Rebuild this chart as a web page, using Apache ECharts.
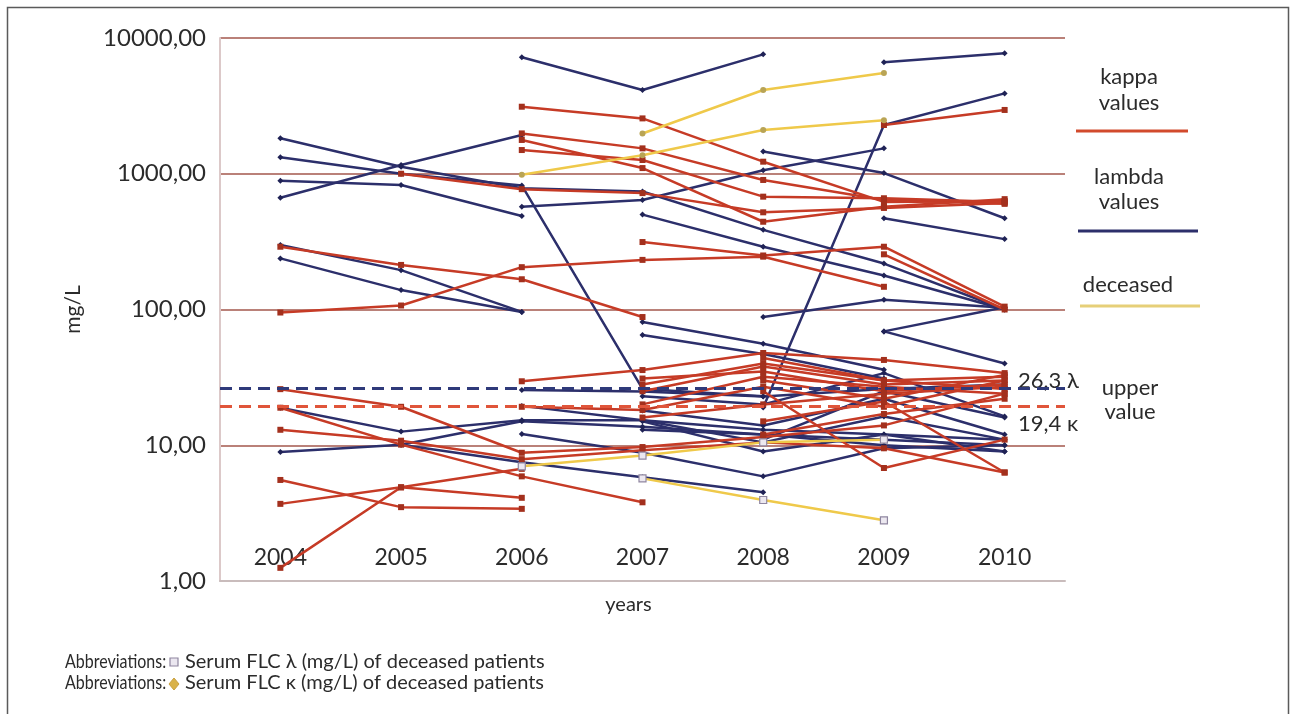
<!DOCTYPE html>
<html><head><meta charset="utf-8">
<script src="https://cdn.jsdelivr.net/npm/echarts@6/dist/echarts.min.js"></script>
<style>html,body{margin:0;padding:0;background:#fff}#c{width:1296px;height:714px}</style>
</head><body><div id="c"></div>
<script>
// ---------- data ----------
const years = ['2004','2005','2006','2007','2008','2009','2010'];
const yMin = 1, yMax = 10000;
const lambdaUpper = 26.3, kappaUpper = 19.4;
const lambdaUpperLabel = '26,3 λ', kappaUpperLabel = '19,4 κ';

// kappa values (red)
const k01 = [95, 107, 205, 232, 245, 147, null];
const k02 = [290, 213, 167, 88, null, null, null];
const k03 = [null, 1000, 770, 720, 520, 560, 610];
const k04 = [null, null, 3117, 2557, 1227, 620, 630];
const k05 = [null, null, 1982, 1538, 900, 640, 600];
const k06 = [null, null, 1774, 1101, 443, 572, 650];
const k07 = [null, null, 1495, 1262, 678, 660, 620];
const k08 = [null, null, null, 314, 250, 290, 105];
const k09 = [null, null, null, null, null, 2286, 2951];
const k10 = [null, null, null, null, null, 255, 100];
const k11 = [25.9, 19.2, 8.8, 9.7, 11.5, 14, 24];
const k12 = [18.9, 10.1, 5.9, 3.8, null, null, null];
const k13 = [13.0, 10.8, 7.9, 9.2, 10.5, 9.5, 6.3];
const k14 = [5.55, 3.5, 3.4, null, null, null, null];
const k15 = [3.7, 4.9, 4.1, null, null, null, null];
const k16 = [1.25, 4.9, 6.7, null, null, null, null];
const k17 = [null, null, 29.6, 35.8, 47.8, 42.5, 34];
const k18 = [null, null, 19.2, 18.2, 27, 19.2, 30];
const k19 = [null, null, null, 28, 40, 30, 26];
const k20 = [null, null, null, 31, 35, 25, 28];
const k21 = [null, null, null, 20, 32, 27, 24];
const k22 = [null, null, null, null, 25, 6.8, 11];
const k23 = [null, null, null, null, 15, 21, 6.3];
const k24 = [null, null, null, null, 12, 17, 22];
const k25 = [null, null, null, null, 44, 30, 32];
const k26 = [null, null, null, 25, 38, 28, 30];
const k27 = [null, null, null, null, 30, 22, 33];
const k28 = [null, null, null, 16, 20, 24, 27];

// lambda values (navy)
const l01 = [1824, 1127, 781, 740, 386, 218, 100];
const l02 = [1322, 1000, 820, 26, 23, null, null];
const l03 = [889, 826, 488, null, null, null, null];
const l04 = [666, 1159, 1928, null, null, null, null];
const l05 = [299, 195, 96, null, null, null, null];
const l06 = [238, 139, 96, null, null, null, null];
const l07 = [null, null, 572, 641, 1060, 1538, null];
const l08 = [null, null, 7210, 4140, 7580, null, null];
const l09 = [null, null, null, null, null, 6620, 7710];
const l10 = [null, null, null, null, 1458, 1012, 470];
const l11 = [null, null, null, null, null, 470, 330];
const l12 = [null, null, null, 500, 290, 178, 100];
const l13 = [null, null, null, null, 88, 118, 103];
const l14 = [null, null, null, null, 19, 2286, 3907];
const l15 = [null, null, null, 81, 56, 36, null];
const l16 = [null, null, null, 65, 47, 31, null];
const l17 = [null, null, null, null, null, 69, 104];
const l18 = [null, null, null, null, null, 69, 40];
const l19 = [18.9, 12.6, 15.3, 15.3, 13, 12, 11];
const l20 = [8.9, 10.1, 15.0, 13.7, 12, 10, 9];
const l21 = [null, null, 25.5, 24.9, 22.9, 26, 28];
const l22 = [null, 10.1, 7.5, 5.8, 4.5, null, null];
const l23 = [null, null, 19.5, 15.3, 10.5, 16.3, 11];
const l24 = [null, null, 12.1, 8.8, 5.9, 9.5, 10];
const l25 = [null, null, null, 23, 20, 34, 16.3];
const l26 = [null, null, null, 15, 9.0, 12, 9];
const l27 = [null, null, null, 18, 14, 22, 12];
const l28 = [null, null, null, 13, 12, 11, 10];
const l29 = [null, null, null, null, 11, 25, 16];

// deceased patients (yellow)
const dKappa1 = [null, null, 983, 1370, 2100, 2480, null];
const dKappa2 = [null, null, null, 1980, 4140, 5520, null];
const dLambda1 = [null, null, 7.0, 8.4, 10.5, 11, null];
const dLambda2 = [null, null, null, 5.7, 3.95, 2.8, null];

const kappaList = [k01,k02,k03,k04,k05,k06,k07,k08,k09,k10,k11,k12,k13,k14,k15,k16,k17,k18,k19,k20,k21,k22,k23,k24,k25,k26,k27,k28];
const lambdaList = [l01,l02,l03,l04,l05,l06,l07,l08,l09,l10,l11,l12,l13,l14,l15,l16,l17,l18,l19,l20,l21,l22,l23,l24,l25,l26,l27,l28,l29];
const deceasedKappaList = [dKappa1, dKappa2];
const deceasedLambdaList = [dLambda1, dLambda2];

// ---------- styles ----------
const RED = '#c63b26', RED_M = '#a3301d';
const NAVY = '#2c2f6b', NAVY_M = '#1f2255';
const YEL = '#efc94a', YEL_M = '#b9a455';
const GRID = '#a3574c';
const FONT = 'Lato, "Open Sans", "DejaVu Sans", sans-serif';

function mk(name, data, color, mColor, symbol, extra) {
  return Object.assign({
    name: name, type: 'line', data: data, connectNulls: false,
    symbol: symbol, symbolSize: 6, showSymbol: true,
    lineStyle: { color: color, width: 2.5 },
    itemStyle: { color: mColor },
    emphasis: { disabled: true }, silent: true
  }, extra || {});
}

const series = [];
lambdaList.forEach(d => series.push(mk('lambda values', d, NAVY, NAVY_M, 'diamond')));
kappaList.forEach(d => series.push(mk('kappa values', d, RED, RED_M, 'rect')));
deceasedKappaList.forEach(d => series.push(mk('deceased κ', d, YEL, YEL_M, 'circle')));
deceasedLambdaList.forEach(d => series.push(mk('deceased λ', d, YEL, '#e9e5ef', 'rect',
  { symbolSize: 7, itemStyle: { color: '#ece8f0', borderColor: '#8f86a0', borderWidth: 1.2 } })));
// upper value reference lines
series.push({
  name: 'upper value', type: 'line', data: [], silent: true,
  markLine: {
    silent: true, symbol: 'none', label: { show: false },
    data: [
      { yAxis: lambdaUpper, lineStyle: { color: '#2f3a7a', width: 3, type: [12, 7] } },
      { yAxis: kappaUpper, lineStyle: { color: '#e0553a', width: 3, type: [12, 7] } }
    ]
  }
});

const chart = echarts.init(document.getElementById('c'), null, { renderer: 'canvas' });
const T = (text, x, y, opts, extra) => Object.assign({
  type: 'text', x: x, y: y, silent: true,
  style: Object.assign({ text: text, fill: '#2b2b2b', font: '22px ' + FONT, textAlign: 'center', textVerticalAlign: 'middle' }, opts || {})
}, extra || {});
const L = (x1, x2, y, color) => ({
  type: 'line', silent: true, shape: { x1: x1, y1: y, x2: x2, y2: y },
  style: { stroke: color, lineWidth: 3 }
});
const SMALL = { textAlign: 'left', font: '20px ' + FONT };

chart.setOption({
  animation: false,
  backgroundColor: '#ffffff',
  grid: { left: 220, right: 231, top: 38, bottom: 133, containLabel: false },
  xAxis: {
    type: 'category', data: years, boundaryGap: true,
    name: 'years', nameLocation: 'middle', nameGap: 14,
    nameTextStyle: { fontFamily: FONT, fontSize: 20, color: '#2b2b2b', padding: [0, 28, 0, 0] },
    axisLine: { show: true, lineStyle: { color: '#c9bcbc', width: 2 } },
    axisTick: { show: false },
    axisLabel: { inside: true, margin: 12, fontFamily: FONT, fontSize: 23, color: '#2b2b2b' },
    splitLine: { show: false }
  },
  yAxis: {
    type: 'log', logBase: 10, min: yMin, max: yMax,
    name: 'mg/L', nameLocation: 'middle', nameGap: 136, nameRotate: 90,
    nameTextStyle: { fontFamily: FONT, fontSize: 21, color: '#2b2b2b' },
    axisLine: { show: true, lineStyle: { color: '#dcc9c9', width: 2 } },
    axisTick: { show: false },
    axisLabel: { margin: 14, fontFamily: FONT, fontSize: 24, color: '#2b2b2b',
      formatter: v => v.toFixed(2).replace('.', ',') },
    splitLine: { show: true, lineStyle: { color: ['#c9bcbc', GRID, GRID, GRID, GRID], width: 1.5 } }
  },
  series: series,
  graphic: [
    { type: 'rect', silent: true, shape: { x: 7.5, y: 7.5, width: 1281, height: 730 },
      style: { fill: 'none', stroke: '#5a5a5a', lineWidth: 1.5 } },
    T('kappa', 1129, 77), T('values', 1129, 103), L(1076, 1188, 131, '#d24a2c'),
    T('lambda', 1129, 177), T('values', 1129, 202), L(1078, 1198, 231, '#2c2f6b'),
    T('deceased', 1128, 285), L(1080, 1200, 306, '#e6cf78'),
    T(lambdaUpperLabel, 1018, 381, { textAlign: 'left' }),
    T(kappaUpperLabel, 1018, 424, { textAlign: 'left' }),
    T('upper', 1130, 388), T('value', 1130, 412),
    T('Abbreviations:', 65, 662, SMALL, { scaleX: 0.8 }),
    { type: 'rect', silent: true, shape: { x: 170, y: 658, width: 8, height: 8 },
      style: { fill: '#ebe7f0', stroke: '#8f86a0', lineWidth: 1.2 } },
    T('Serum FLC λ (mg/L) of deceased patients', 185, 662, SMALL),
    T('Abbreviations:', 65, 683, SMALL, { scaleX: 0.8 }),
    { type: 'polygon', silent: true, shape: { points: [[174, 678], [179, 684], [174, 690], [169, 684]] },
      style: { fill: '#d9b24a', stroke: '#c9a040', lineWidth: 1 } },
    T('Serum FLC κ (mg/L) of deceased patients', 185, 683, SMALL)
  ]
});
</script>
</body></html>
